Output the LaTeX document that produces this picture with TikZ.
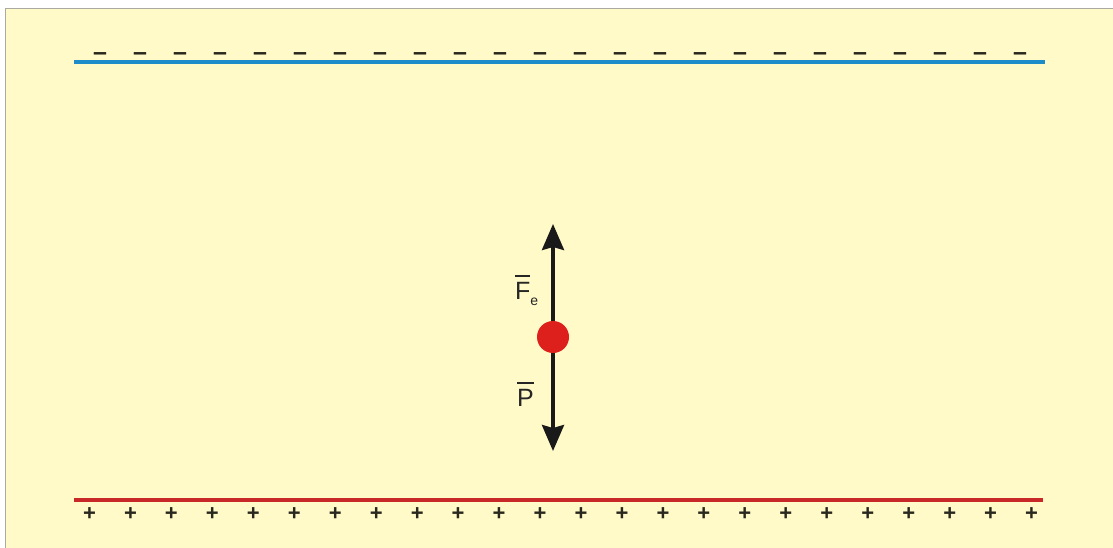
\documentclass[tikz,border=0pt]{standalone}
\usepackage{fontspec}
\setmainfont{Liberation Sans}
\usetikzlibrary{arrows.meta}
\definecolor{bg}{RGB}{255,250,200}
\definecolor{plateblue}{RGB}{30,140,200}
\definecolor{platered}{RGB}{200,40,40}
\definecolor{ballred}{RGB}{222,32,28}
\definecolor{signc}{RGB}{40,40,30}
\definecolor{framec}{RGB}{170,170,160}
\newcommand\vecbar[1]{\vbox{\hrule height 1.8pt\kern 5pt\hbox{#1}}}
\begin{document}
\begin{tikzpicture}[x=1pt,y=-1pt,
  sign/.style={inner sep=0pt, anchor=base, text=signc, font=\fontsize{22}{22}\selectfont\bfseries},
  minus/.style={sign, font=\fontsize{25}{25}\selectfont\bfseries},
  lbl/.style={inner sep=0pt, anchor=base west, text=black!85, font=\fontsize{25}{25}\selectfont},
  force/.style={line width=3.5pt, draw=black!90, -{Stealth[length=26pt,width=22pt,inset=3pt]}},
  plate/.style={line width=4pt}]
\useasboundingbox (0,0) rectangle (1113,548);
\fill[white] (0,0) rectangle (1113,548);
\fill[bg] (5,9) rectangle (1113,548);
\draw[framec, line width=1pt] (5,548) -- (5,9) -- (1113,9);
% plates
\coordinate (tl) at (74,62.5); \coordinate (tr) at (1045,62.5);
\coordinate (bl) at (74,499.5); \coordinate (br) at (1043,499.5);
\draw[plate, plateblue] (tl) -- (tr);
\draw[plate, platered] (bl) -- (br);
% charges
\foreach \i in {0,...,23} {
  \node[minus] (m\i) at (100+40*\i, 61) {–};
  \node[sign] (p\i) at (89.5+40.96*\i, 520) {+};
}
% particle and forces
\node[circle, fill=ballred, minimum size=32pt, inner sep=0pt] (q) at (553,337) {};
\coordinate (ftip) at (553,224);
\coordinate (ptip) at (553,451);
\draw[force] (q) -- (ftip);
\draw[force] (q) -- (ptip);
\node[lbl] (fe) at (515,299) {\vecbar{F}\raisebox{-6.5pt}{\fontsize{14}{14}\selectfont e}};
\node[lbl] (pw) at (517,406) {\vecbar{P}};
\end{tikzpicture}
\end{document}
